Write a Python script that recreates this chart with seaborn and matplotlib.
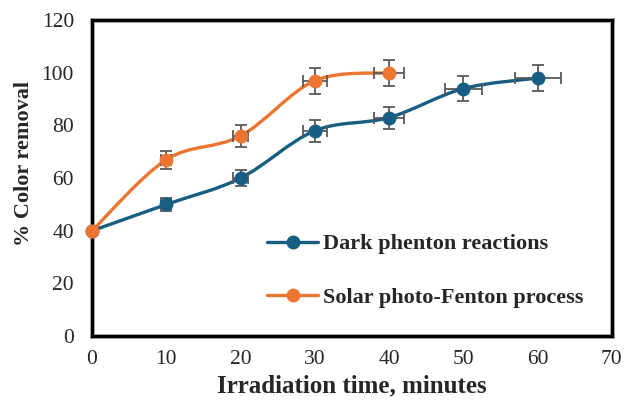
import numpy as np
import pandas as pd
import matplotlib
matplotlib.use("Agg")
import matplotlib.pyplot as plt
import seaborn as sns
from matplotlib.path import Path
from matplotlib.patches import PathPatch, Rectangle
from matplotlib.lines import Line2D

# Data
dark_time = [0, 10, 20, 30, 40, 50, 60]
dark_removal = [40, 50, 60, 78, 83, 94, 98]
dark_yerr = [0, 2.5, 3, 4.2, 4.2, 4.7, 5]
dark_xerr = [0, 0.7, 1.0, 1.6, 2.0, 2.5, 3.1]

solar_time = [0, 10, 20, 30, 40]
solar_removal = [40, 67, 76, 97, 100]
solar_yerr = [0, 3.4, 4, 5, 5]
solar_xerr = [0, 0.7, 1.0, 1.6, 2.0]

labels = ["Dark phenton reactions", "Solar photo-Fenton process"]
colors = ["#175e82", "#ed7532"]
x_ticks = [0, 10, 20, 30, 40, 50, 60, 70]
y_ticks = [0, 20, 40, 60, 80, 100, 120]

sns.set_style("white")
plt.rcParams['font.family'] = ['Liberation Serif', 'DejaVu Serif']

fig = plt.figure(figsize=(6.32, 4.03), dpi=100)
ax = fig.add_axes([0.1456, 0.166, 0.968 - 0.1456, 0.950 - 0.166])


def smooth_path(xs, ys):
    pts = np.column_stack([xs, ys]).astype(float)
    n = len(pts)
    verts = [pts[0]]
    codes = [Path.MOVETO]
    for i in range(n - 1):
        p0 = pts[i - 1] if i > 0 else pts[i]
        p1 = pts[i]
        p2 = pts[i + 1]
        p3 = pts[i + 2] if i + 2 < n else pts[i + 1]
        c1 = p1 + (p2 - p0) / 6.0
        c2 = p2 - (p3 - p1) / 6.0
        verts += [c1, c2, p2]
        codes += [Path.CURVE4] * 3
    return Path(verts, codes)


series = [
    (dark_time, dark_removal, dark_xerr, dark_yerr),
    (solar_time, solar_removal, solar_xerr, solar_yerr),
]
for (xs, ys, xe, ye), col, lab in zip(series, colors, labels):
    ax.add_patch(PathPatch(smooth_path(xs, ys), facecolor="none",
                           edgecolor=col, lw=2.4, zorder=3))
    ax.errorbar(xs, ys, xerr=xe, yerr=ye, fmt="none", ecolor="#595959",
                elinewidth=1.3, capsize=4, capthick=1.3, zorder=4)
    df = pd.DataFrame({"t": xs, "r": ys})
    sns.scatterplot(data=df, x="t", y="r", color=col, s=100, edgecolor=col,
                    linewidth=0, ax=ax, zorder=5, clip_on=False)

ax.set_xlim(0, 70)
ax.set_ylim(0, 120)
ax.set_xticks(x_ticks)
ax.set_yticks(y_ticks)
ax.tick_params(axis="x", labelsize=15.5, length=0, pad=10)
ax.tick_params(axis="y", labelsize=15.5, length=0, pad=13)
ax.set_xlabel("Irradiation time, minutes", fontsize=18, fontweight="bold", labelpad=4)
ax.set_ylabel("% Color removal", fontsize=16, fontweight="bold")
ax.yaxis.set_label_coords(-0.112, 0.545)
for sp in ax.spines.values():
    sp.set_visible(True)
    sp.set_color("#9a9a9a")
    sp.set_linewidth(3.4)
    sp.set_zorder(2)
ax.add_patch(Rectangle((0, 0), 1, 1, transform=ax.transAxes, fill=False,
                       edgecolor="black", lw=2.2, clip_on=False, zorder=2.5))

handles = [Line2D([0], [0], color=c, lw=2.4, marker="o", markersize=9) for c in colors]
leg = ax.legend(handles, labels, loc="upper left", bbox_to_anchor=(0.32, 0.352),
                frameon=False, prop={"size": 16, "weight": "bold"},
                handlelength=2.3, labelspacing=1.5, handletextpad=0.2, borderaxespad=0)

fig.savefig("out.png", dpi=100)
